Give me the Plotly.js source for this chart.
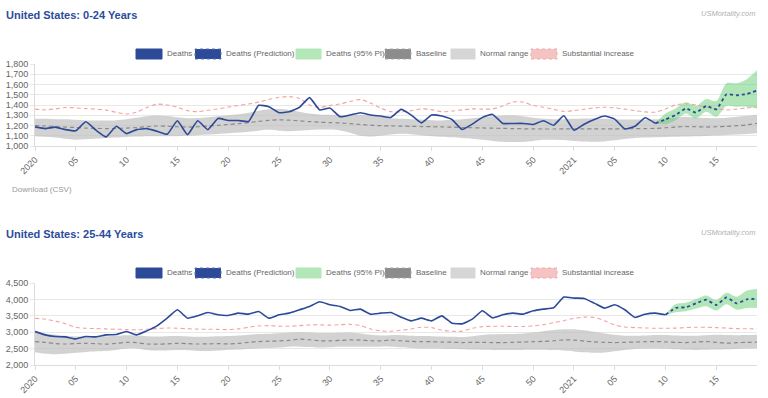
<!DOCTYPE html>
<html><head><meta charset="utf-8">
<script src="https://cdn.plot.ly/plotly-3.0.1.min.js"></script>
<style>
html,body{margin:0;padding:0;background:#fff;width:768px;height:398px;overflow:hidden;font-family:"Liberation Sans",Arial,sans-serif;}
#c1{position:absolute;left:0;top:0;width:768px;height:179px;}
#c2{position:absolute;left:0;top:219px;width:768px;height:179px;}
#dl{position:absolute;left:12px;top:185px;font-size:8px;color:#9a9a9a;}
</style></head><body>
<div id="c1"></div><div id="dl">Download (CSV)</div><div id="c2"></div>
<script>
const weeks = ["2020-01","2020-02","2020-03","2020-04","2020-05","2020-06","2020-07","2020-08","2020-09","2020-10",
"2020-11","2020-12","2020-13","2020-14","2020-15","2020-16","2020-17","2020-18","2020-19","2020-20",
"2020-21","2020-22","2020-23","2020-24","2020-25","2020-26","2020-27","2020-28","2020-29","2020-30",
"2020-31","2020-32","2020-33","2020-34","2020-35","2020-36","2020-37","2020-38","2020-39","2020-40",
"2020-41","2020-42","2020-43","2020-44","2020-45","2020-46","2020-47","2020-48","2020-49","2020-50",
"2020-51","2020-52","2020-53","2021-01","2021-02","2021-03","2021-04","2021-05","2021-06","2021-07",
"2021-08","2021-09","2021-10","2021-11","2021-12","2021-13","2021-14","2021-15","2021-16","2021-17",
"2021-18","2021-19"];
const tickWeeks = ["2020-01","2020-05","2020-10","2020-15","2020-20","2020-25","2020-30","2020-35","2020-40","2020-45","2020-50","2021-01","2021-05","2021-10","2021-15"];
const tickLabels = ["2020","05","10","15","20","25","30","35","40","45","50","2021","05","10","15"];
const legendLabels = ["Deaths","Deaths (Prediction)","Deaths (95% PI)","Baseline","Normal range","Substantial increase"];

// ---- 0-24 Years ----
const deaths1 = [1187,1170,1184,1160,1148,1236,1154,1089,1193,1121,1160,1170,1144,1115,1246,1111,1246,1160,1269,1249,1249,1239,1397,1384,1325,1334,1377,1472,1351,1370,1285,1302,1325,1302,1292,
1279,1357,1302,1226,1302,1292,1259,1161,1213,1279,1308,1220,1220,1220,1210,1246,1203,1295,1154,1213,1259,1292,1262,1167,1193,1275,1220];
const pred1 = [1220,1259,1302,1367,1325,1390,1357,1505,1495,1508,1541];
const piHi1 = [1220,1318,1367,1426,1390,1459,1439,1613,1613,1652,1738];
const piLo1 = [1220,1213,1252,1318,1269,1334,1285,1390,1384,1384,1367];
const baseline1 = [1200,1195,1190,1185,1180,1175,1172,1170,1172,1175,
1180,1188,1195,1193,1188,1185,1188,1195,1202,1210,
1218,1228,1240,1250,1255,1252,1245,1238,1232,1228,
1225,1218,1210,1203,1198,1196,1194,1192,1190,1188,
1186,1184,1180,1178,1176,1174,1172,1170,1168,1167,
1166,1166,1167,1168,1168,1168,1168,1168,1168,1169,
1170,1172,1178,1185,1190,1188,1185,1188,1192,1198,1206,1220];
const normHi1 = [1265,1265,1262,1260,1255,1250,1248,1248,1252,1262,
1275,1290,1298,1292,1280,1270,1272,1280,1290,1300,
1310,1325,1345,1358,1360,1352,1335,1318,1308,1304,
1302,1302,1302,1298,1285,1270,1265,1262,1258,1252,
1250,1255,1262,1270,1280,1290,1298,1300,1290,1275,
1265,1262,1262,1265,1268,1268,1265,1260,1258,1258,
1258,1260,1265,1275,1282,1278,1272,1270,1275,1285,1295,1305];
const normLo1 = [1095,1090,1082,1070,1062,1065,1072,1078,1082,1088,
1092,1095,1095,1095,1096,1100,1106,1112,1118,1125,
1132,1140,1150,1158,1150,1145,1148,1155,1160,1160,
1152,1130,1100,1092,1100,1112,1120,1115,1105,1095,
1090,1085,1078,1070,1060,1050,1042,1038,1040,1050,
1060,1062,1058,1050,1045,1042,1045,1055,1068,1078,
1082,1085,1088,1090,1092,1095,1098,1102,1108,1112,1118,1125];
const subst1 = [1360,1352,1362,1375,1372,1365,1360,1350,1328,1312,
1330,1375,1408,1400,1378,1345,1335,1348,1362,1380,
1395,1410,1428,1455,1475,1482,1465,1400,1378,1395,
1410,1435,1452,1420,1370,1335,1332,1345,1362,1355,
1335,1340,1352,1362,1360,1362,1390,1430,1428,1395,
1378,1358,1338,1345,1358,1372,1378,1372,1360,1345,
1333,1330,1362,1400,1412,1400,1380,1365,1352,1360,1372,1380];

// ---- 25-44 Years ----
const deaths2 = [3020,2918,2867,2857,2796,2867,2857,2918,2928,3020,2918,3040,3193,3428,3683,3428,3499,3601,3530,3510,3581,3550,3632,3428,3530,3581,3683,3785,3928,3836,3785,3663,3703,3550,3581,
3601,3459,3346,3428,3346,3499,3275,3255,3397,3652,3438,3530,3581,3550,3652,3703,3744,4071,4040,4030,3887,3734,3836,3683,3448,3550,3581,3530];
const pred2 = [3530,3740,3760,3880,3990,3830,4060,3880,4000,4020];
const piHi2 = [3530,3860,3900,4010,4120,3980,4200,4080,4270,4320];
const piLo2 = [3530,3610,3640,3720,3790,3660,3850,3690,3740,3740];
const baseline2 = [2715,2690,2650,2640,2655,2660,2650,2635,2660,2690,
2680,2640,2635,2645,2660,2650,2640,2645,2650,2645,
2660,2690,2715,2725,2735,2750,2790,2770,2740,2735,
2750,2765,2760,2740,2735,2760,2740,2720,2710,2710,
2700,2695,2685,2690,2690,2685,2685,2690,2700,2710,
2720,2740,2765,2760,2730,2705,2690,2685,2690,2700,
2710,2715,2705,2690,2685,2700,2715,2690,2665,2680,2690,2695];
const normHi2 = [3050,2960,2920,2890,2870,2880,2880,2875,2890,2910,
2905,2880,2870,2880,2885,2870,2860,2865,2875,2885,
2900,2925,2945,2955,2970,2990,3000,2990,2975,2975,
2985,2990,2960,2920,2900,2910,2910,2895,2885,2880,
2870,2860,2855,2880,2915,2935,2940,2945,2960,2990,
3030,3065,3090,3090,3060,3010,2960,2920,2895,2890,
2900,2915,2915,2900,2890,2895,2910,2920,2915,2910,2915,2920];
const normLo2 = [2390,2345,2330,2340,2370,2400,2420,2430,2460,2500,
2505,2460,2440,2445,2455,2450,2430,2425,2440,2465,
2475,2490,2505,2515,2530,2555,2560,2545,2530,2540,
2555,2560,2555,2555,2560,2560,2540,2520,2505,2500,
2495,2485,2478,2470,2465,2460,2455,2455,2458,2462,
2465,2455,2440,2415,2385,2370,2380,2420,2460,2490,
2505,2505,2495,2480,2465,2460,2465,2470,2480,2490,2500,2505];
const subst2 = [3420,3400,3340,3260,3150,3120,3110,3100,3090,3080,
3075,3090,3110,3130,3120,3105,3095,3090,3085,3080,
3100,3150,3190,3200,3185,3180,3200,3220,3225,3215,
3230,3240,3200,3100,3040,3030,3060,3100,3150,3140,
3060,3030,3030,3120,3170,3180,3180,3175,3175,3190,
3230,3290,3350,3420,3460,3450,3350,3220,3160,3140,
3130,3120,3120,3125,3140,3150,3150,3140,3125,3110,3105,3100];

const FONT = '"Liberation Sans", Arial, sans-serif';
const BLUE = '#2d4a98';
const W = 768, H = 179, L = 35, R = 11, T = 64, B = 33;
const PW = W - L - R, PH = H - T - B;
const px = v => (v - L) / PW;
const py = v => (H - B - v) / PH;

function draw(id, title, d) {
  const predStart = d.deaths.length - 1;
  const xp = weeks.slice(predStart, predStart + d.pred.length);
  const band = {mode:'lines', line:{width:0, shape:'spline', smoothing:0.8}, hoverinfo:'skip', showlegend:false};
  const traces = [
    Object.assign({}, band, {x:weeks, y:d.normLo}),
    Object.assign({}, band, {x:weeks, y:d.normHi, fill:'tonexty', fillcolor:'rgba(188,188,188,0.68)'}),
    Object.assign({}, band, {x:xp, y:d.piLo}),
    Object.assign({}, band, {x:xp, y:d.piHi, fill:'tonexty', fillcolor:'rgba(100,205,115,0.5)'}),
    {x:weeks, y:d.baseline, mode:'lines', showlegend:false, line:{color:'#8a8a8a', width:1.2, dash:'4px,3px', shape:'spline', smoothing:0.8}},
    {x:weeks, y:d.subst, mode:'lines', showlegend:false, line:{color:'#f2a3a3', width:1.1, dash:'4px,3px', shape:'spline', smoothing:0.8}},
    {x:weeks.slice(0, d.deaths.length), y:d.deaths, mode:'lines', showlegend:false, line:{color:BLUE, width:1.6, shape:'spline', smoothing:0.4}},
    {x:xp, y:d.pred, mode:'lines', showlegend:false, line:{color:BLUE, width:1.8, dash:'dot', shape:'spline', smoothing:0.4}}
  ];
  // legend boxes (pixel positions within chart container)
  const boxes = [
    {x0:136, x1:162, tx:165, fill:BLUE, line:BLUE, dash:'solid'},
    {x0:195, x1:221, tx:224, fill:BLUE, line:'#5a74b8', dash:'dot'},
    {x0:296, x1:321, tx:324, fill:'#b4e7b8', line:'#b4e7b8', dash:'solid'},
    {x0:385, x1:411, tx:414, fill:'#8c8c8c', line:'#a8a8a8', dash:'dot'},
    {x0:451, x1:475, tx:478, fill:'#d6d6d6', line:'#d6d6d6', dash:'solid'},
    {x0:531, x1:557, tx:560, fill:'#f6c3c3', line:'#f0a8a8', dash:'dot'}
  ];
  const shapes = boxes.map(b => ({type:'rect', xref:'paper', yref:'paper', x0:px(b.x0), x1:px(b.x1), y0:py(59), y1:py(49),
    fillcolor:b.fill, line:{color:b.line, width:1, dash:b.dash}}));
  const annotations = boxes.map((b, i) => ({xref:'paper', yref:'paper', x:px(b.tx), y:py(54), xanchor:'left', yanchor:'middle',
    showarrow:false, text:legendLabels[i], font:{family:FONT, size:8, color:'#666'}}));
  annotations.push({xref:'paper', yref:'paper', x:px(757), y:py(14), xanchor:'right', yanchor:'middle', showarrow:false,
    text:'<i>USMortality.com</i>', font:{family:FONT, size:7.5, color:'#b0b0b0'}});
  const layout = {
    width:W, height:H, margin:{l:L, r:R, t:T, b:B}, paper_bgcolor:'#fff', plot_bgcolor:'#fff',
    showlegend:false,
    title:{text:'<b>' + title + '</b>', font:{family:FONT, size:11, color:'#2b4c9b'}, xref:'container', yref:'container',
      x:6/W, xanchor:'left', y:1 - 15/H, yanchor:'middle'},
    xaxis:{type:'category', categoryorder:'array', categoryarray:weeks, range:[0, weeks.length - 1],
      tickmode:'array', tickvals:tickWeeks, ticktext:tickLabels, tickangle:-45,
      showgrid:false, showline:true, linecolor:'#dcdcdc', ticks:'outside', ticklen:4, tickcolor:'#dcdcdc',
      tickfont:{family:FONT, size:9, color:'#666'}, zeroline:false, fixedrange:true},
    yaxis:{range:d.range, dtick:d.dtick, tickformat:',d', showgrid:true, gridcolor:'#e8e8e8', showline:true, linecolor:'#dcdcdc',
      ticks:'outside', ticklen:4, tickcolor:'#e8e8e8', tickfont:{family:FONT, size:9, color:'#666'}, zeroline:false, fixedrange:true},
    shapes:shapes, annotations:annotations
  };
  Plotly.newPlot(id, traces, layout, {displayModeBar:false, staticPlot:true});
}

draw('c1', 'United States: 0-24 Years', {deaths:deaths1, pred:pred1, piHi:piHi1, piLo:piLo1, baseline:baseline1, normHi:normHi1, normLo:normLo1, subst:subst1, range:[1000,1800], dtick:100});
draw('c2', 'United States: 25-44 Years', {deaths:deaths2, pred:pred2, piHi:piHi2, piLo:piLo2, baseline:baseline2, normHi:normHi2, normLo:normLo2, subst:subst2, range:[2000,4500], dtick:500});
</script></body></html>
